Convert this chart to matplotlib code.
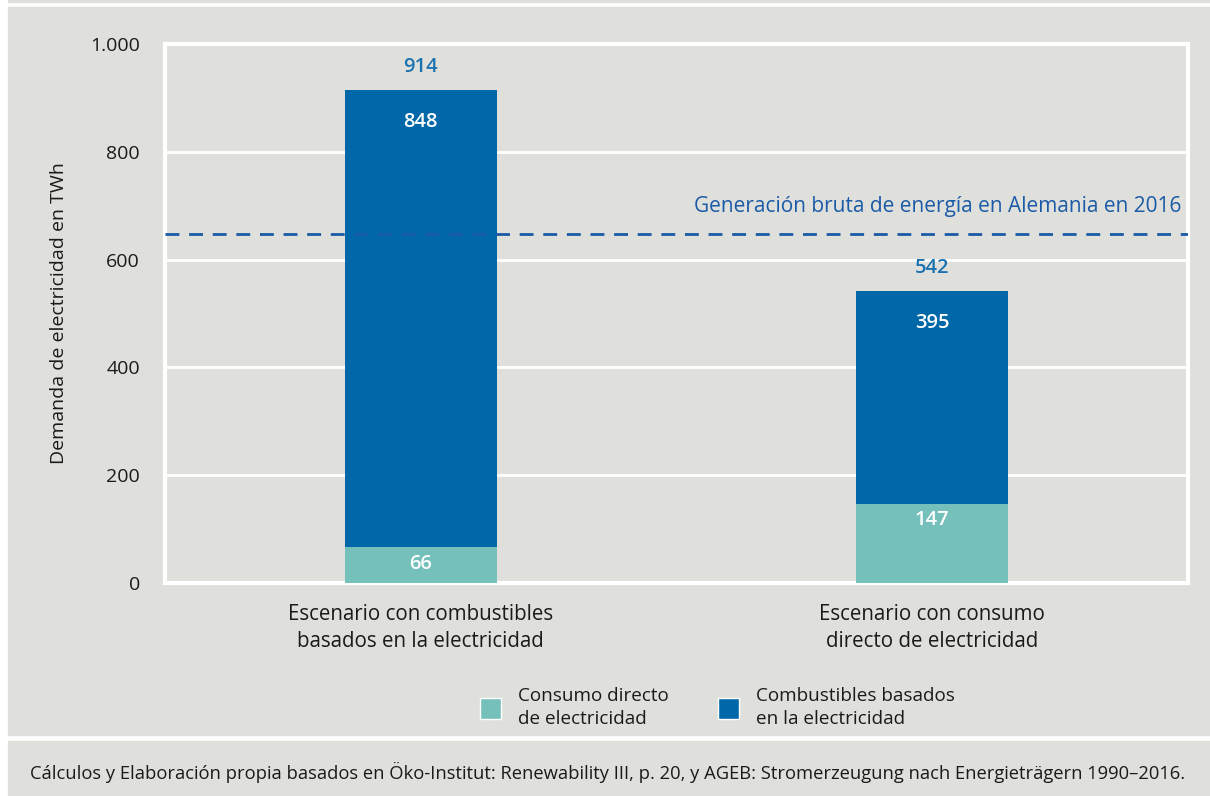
import matplotlib.pyplot as plt
from matplotlib.patches import Rectangle, Patch
import numpy as np

# data
categories = ['Escenario con combustibles\nbasados en la electricidad',
              'Escenario con consumo\ndirecto de electricidad']
directo = [66, 147]
combustibles = [848, 395]
generacion_2016 = 648
series_labels = ['Consumo directo\nde electricidad', 'Combustibles basados\nen la electricidad']
yticks = [0, 200, 400, 600, 800, 1000]
ytick_labels = ['0', '200', '400', '600', '800', '1.000']

BG = '#dfe0dc'
TEAL = '#76c0bb'
BLUE = '#0068a9'
TOTAL_C = '#1b72b0'
LINE_C = '#1a5aa6'
TXT = '#1a1a1a'

plt.rcParams['font.family'] = ['Open Sans', 'DejaVu Sans']

fig = plt.figure(figsize=(12.1, 7.96), dpi=100, facecolor='white')

# background panels
fig.patches.append(Rectangle((8 / 1210, 1 - 735 / 796), 1, (735 - 7) / 796,
                             transform=fig.transFigure, color=BG, zorder=-10))
fig.patches.append(Rectangle((8 / 1210, 0), 1, 1 - 741 / 796,
                             transform=fig.transFigure, color=BG, zorder=-10))
fig.patches.append(Rectangle((8 / 1210, 1 - 2 / 796), 1, 2 / 796,
                             transform=fig.transFigure, color=BG, zorder=-10))

ax = fig.add_axes([165 / 1210, 1 - 583 / 796, (1188 - 165) / 1210, (583 - 44) / 796])
ax.set_facecolor(BG)
ax.set_xlim(-0.5, 1.5)
ax.set_ylim(0, 1000)

x = np.arange(len(categories))
w = 0.297
ax.bar(x, directo, w, color=TEAL, zorder=3)
ax.bar(x, combustibles, w, bottom=directo, color=BLUE, zorder=3)

totals = [a + b for a, b in zip(directo, combustibles)]
for i in range(len(x)):
    ax.annotate(str(directo[i]), (x[i], directo[i]), xytext=(0, -12), textcoords='offset points',
                ha='center', va='center', color='white', fontsize=14.5, fontweight='semibold', zorder=4)
    ax.annotate(str(combustibles[i]), (x[i], totals[i]), xytext=(0, -23), textcoords='offset points',
                ha='center', va='center', color='white', fontsize=14.5, fontweight='semibold', zorder=4)
    ax.annotate(str(totals[i]), (x[i], totals[i]), xytext=(0, 16.5), textcoords='offset points',
                ha='center', va='center', color=TOTAL_C, fontsize=14.5, fontweight='semibold', zorder=4)

# reference line
ax.axhline(generacion_2016, color=LINE_C, lw=2, ls=(0, (5, 3.5)), zorder=4)
ax.annotate('Generación bruta de energía en Alemania en 2016', (1.0, generacion_2016),
            xycoords=('axes fraction', 'data'), xytext=(-5, 19.5), textcoords='offset points',
            ha='right', va='center', color=LINE_C, fontsize=15, fontweight='medium')

# grid and frame
ax.set_yticks(yticks)
ax.set_yticklabels(ytick_labels)
ax.grid(axis='y', color='white', lw=2, zorder=1)
ax.set_axisbelow(True)
for s in ax.spines.values():
    s.set_color('white')
    s.set_linewidth(3)
ax.tick_params(axis='y', length=0, pad=18, labelsize=14, labelcolor=TXT)
ax.tick_params(axis='x', length=0, pad=15, labelsize=14.8, labelcolor=TXT)
ax.set_xticks(x)
ax.set_xticklabels(categories, linespacing=1.4)
ax.set_ylabel('Demanda de electricidad en TWh', fontsize=14, color=TXT, labelpad=16)

handles = [Patch(facecolor=TEAL, edgecolor='white', lw=1),
           Patch(facecolor=BLUE, edgecolor='white', lw=1)]
leg = fig.legend(handles, series_labels, ncol=2, loc='center', bbox_to_anchor=(0.593, 0.111),
                 frameon=False, fontsize=13.6, handlelength=1.1, handleheight=1.3,
                 handletextpad=0.9, columnspacing=2.6, labelcolor=TXT)
for t in leg.get_texts():
    t.set_linespacing(1.35)

fig.text(30 / 1210, 1 - 772 / 796,
         'Cálculos y Elaboración propia basados en Öko-Institut: Renewability III, p. 20, '
         'y AGEB: Stromerzeugung nach Energieträgern 1990–2016.',
         ha='left', va='center', fontsize=13.2, color=TXT)

fig.savefig('out.png', dpi=100, facecolor=fig.get_facecolor())
